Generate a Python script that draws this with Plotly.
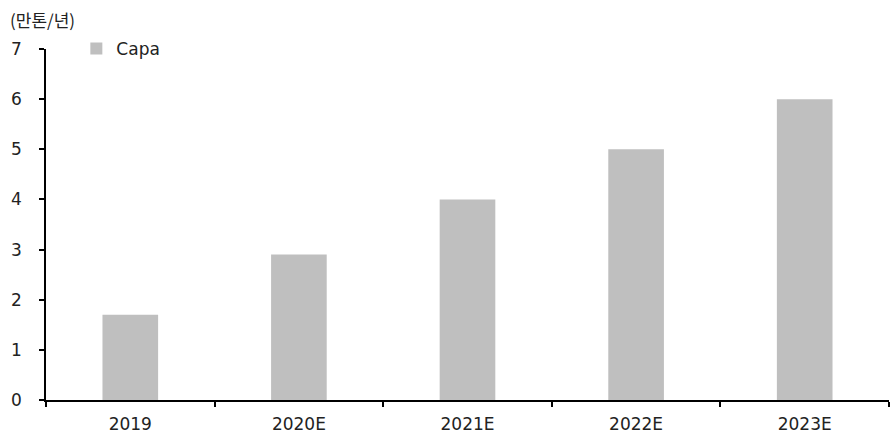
import plotly.graph_objects as go

categories = ["2019", "2020E", "2021E", "2022E", "2023E"]
capa = [1.7, 2.9, 4.0, 5.0, 6.0]
y_ticks = [0, 1, 2, 3, 4, 5, 6, 7]

FONT = "DejaVu Sans"
KFONT = "Noto Sans CJK KR"

fig = go.Figure()
fig.add_trace(go.Bar(
    x=categories, y=capa, name="Capa",
    marker=dict(color="#BFBFBF", line=dict(width=0)),
    width=0.33,
))

fig.update_layout(
    width=891, height=438,
    margin=dict(l=46, r=2, t=49, b=38),
    paper_bgcolor="white", plot_bgcolor="white",
    font=dict(family=FONT, size=17, color="#000000"),
    showlegend=True,
    legend=dict(x=0.036, y=1.0, xanchor="left", yanchor="middle",
                bgcolor="rgba(0,0,0,0)", font=dict(family=FONT, size=17, color="#222"),
                itemwidth=30, tracegroupgap=0),
)
fig.update_xaxes(
    showline=True, linecolor="black", linewidth=1.5,
    ticks="outside", ticklen=5, tickcolor="black", tickwidth=1.5,
    tickson="boundaries", showgrid=False, ticklabelstandoff=8,
    tickfont=dict(family=FONT, size=17, color="#222"),
)
fig.update_yaxes(
    range=[0, 7], tickvals=y_ticks, showline=True, linecolor="black", linewidth=1.5,
    ticks="outside", ticklen=5, tickcolor="black", tickwidth=1.5,
    showgrid=False, zeroline=False, ticklabelstandoff=14,
    tickfont=dict(family=FONT, size=17, color="#222"),
)
fig.add_annotation(
    text="(만톤/년)", xref="paper", yref="paper", x=-46/843, y=1.0,
    yshift=30, xshift=8, xanchor="left", yanchor="middle", showarrow=False,
    font=dict(family=KFONT, size=17, color="#222"),
)
fig.write_html("out.html")
